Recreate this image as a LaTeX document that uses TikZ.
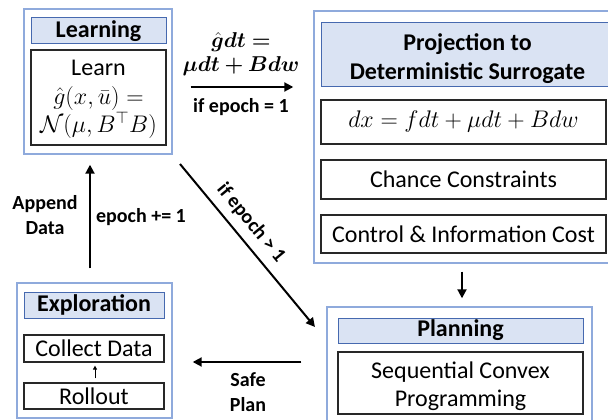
\RequirePackage{fix-cm}
\documentclass[tikz,border=0pt]{standalone}
\usepackage{amsmath,amssymb,bm}
\usepackage{fontspec}
\setmainfont{Carlito}
\usetikzlibrary{arrows.meta}
\definecolor{outerblue}{RGB}{143,170,220}
\definecolor{hdrfill}{RGB}{218,227,243}
\definecolor{hdrline}{RGB}{70,105,175}
\definecolor{inline}{RGB}{40,40,40}
\tikzset{
  outer/.style={draw=outerblue, line width=1.4pt, inner sep=0pt},
  hdr/.style={draw=hdrline, fill=hdrfill, line width=1pt, inner sep=0pt, align=center,
    font=\fontsize{24}{29}\selectfont\bfseries},
  hdrtxt/.style={inner sep=0pt, align=center, font=\fontsize{24}{29}\selectfont\bfseries},
  inbox/.style={draw=inline, line width=1.2pt, inner sep=0pt, align=center,
    font=\fontsize{24}{28}\selectfont},
  intxt/.style={inner sep=0pt, align=center, font=\fontsize{24}{28.5}\selectfont},
  lbl/.style={inner sep=0pt, align=center, font=\fontsize{20}{25}\selectfont\bfseries},
  arr/.style={line width=2pt, -{Triangle[length=9pt,width=9pt]}},
  smallarr/.style={line width=0.9pt, -{Triangle[length=4pt,width=4pt]}}
}
\begin{document}
\begin{tikzpicture}[x=1pt,y=-1pt]
\useasboundingbox (0,0) rectangle (608,420);
\clip (0,0) rectangle (608,420);
\fill[white] (0,0) rectangle (608,420);
% Learning
\node[outer, minimum width=148pt, minimum height=145pt] (L) at (98,81.5) {};
\node[hdr, minimum width=135pt, minimum height=26pt] (Lh) at (98.5,31) {Learning};
\node[inbox, minimum width=135pt, minimum height=95pt] (Lin) at (98.5,97.5) {};
\node[intxt] (Lt) at (98.5,99.5)
  {Learn\\ $\hat{g}(x,\bar{u}) =$\\ $\mathcal{N}(\mu, B^{\top}B)$};
% Projection
\node[outer, minimum width=298pt, minimum height=252pt] (P) at (463,137) {};
\node[hdr, minimum width=287pt, minimum height=64pt] (Ph) at (464.5,55) {};
\node[hdrtxt] (Pht) at (467.5,58.5) {Projection to\\Deterministic Surrogate};
\node[inbox, minimum width=285pt, minimum height=44pt] (Pd) at (463.5,122)
  {$dx = f dt + \mu dt + B dw$};
\node[inbox, minimum width=285pt, minimum height=39pt] (Pc) at (463.5,179.5)
  {Chance Constraints};
\node[inbox, minimum width=285pt, minimum height=38pt] (Pi) at (463.5,234)
  {Control \& Information Cost};
% Planning
\node[outer, minimum width=265pt, minimum height=117pt] (Pl) at (459.5,365.5) {};
\node[hdr, minimum width=245pt, minimum height=25pt] (Plh) at (460.5,330.5) {Planning};
\node[inbox, minimum width=245pt, minimum height=62pt] (Pls) at (460.5,383) {};
\node[intxt] (Plt) at (460.5,386) {Sequential Convex\\ Programming};
% Exploration
\node[outer, minimum width=155pt, minimum height=135pt] (E) at (94.5,350.5) {};
\node[hdr, minimum width=140pt, minimum height=26pt] (Eh) at (94,305) {Exploration};
\node[inbox, minimum width=140pt, minimum height=27pt] (Ec) at (94,348.5) {Collect Data};
\node[inbox, minimum width=140pt, minimum height=26pt] (Er) at (94,396) {Rollout};
\draw[smallarr, shorten <=4pt, shorten >=3pt] (Er.north -| 95,0) -- (Ec.south -| 95,0);
% Arrows
\draw[arr, shorten <=18pt, shorten >=20pt] (L.east |- 0,87) -- (P.west |- 0,87);
\node[lbl, font=\fontsize{21.5}{25}\selectfont] (la1) at (241,54) {$\bm{\hat{g}dt =}$\\[-1pt] $\bm{\mu dt + B dw}$};
\node[lbl] (la2) at (241,107) {if epoch = 1};
\draw[arr, shorten <=8pt, shorten >=8pt] (P.south -| 462,0) -- (Pl.north -| 462,0);
\draw[arr, shorten <=14pt, shorten >=10pt] (E.north -| 90,0) -- (L.south -| 90,0);
\node[lbl] (la3) at (45,215.5) {Append\\ Data};
\node[lbl] (la4) at (141,217) {epoch += 1};
\coordinate (d1) at (180,164);
\coordinate (d2) at (315,327);
\draw[arr] (d1) -- (d2);
\node[lbl, rotate=-50.4] (la5) at (251,223) {if epoch > 1};
\draw[arr, shorten <=25pt, shorten >=20pt] (Pl.west |- 0,362) -- (E.east |- 0,362);
\node[lbl] (la6) at (248,392.5) {Safe\\ Plan};
\end{tikzpicture}
\end{document}
